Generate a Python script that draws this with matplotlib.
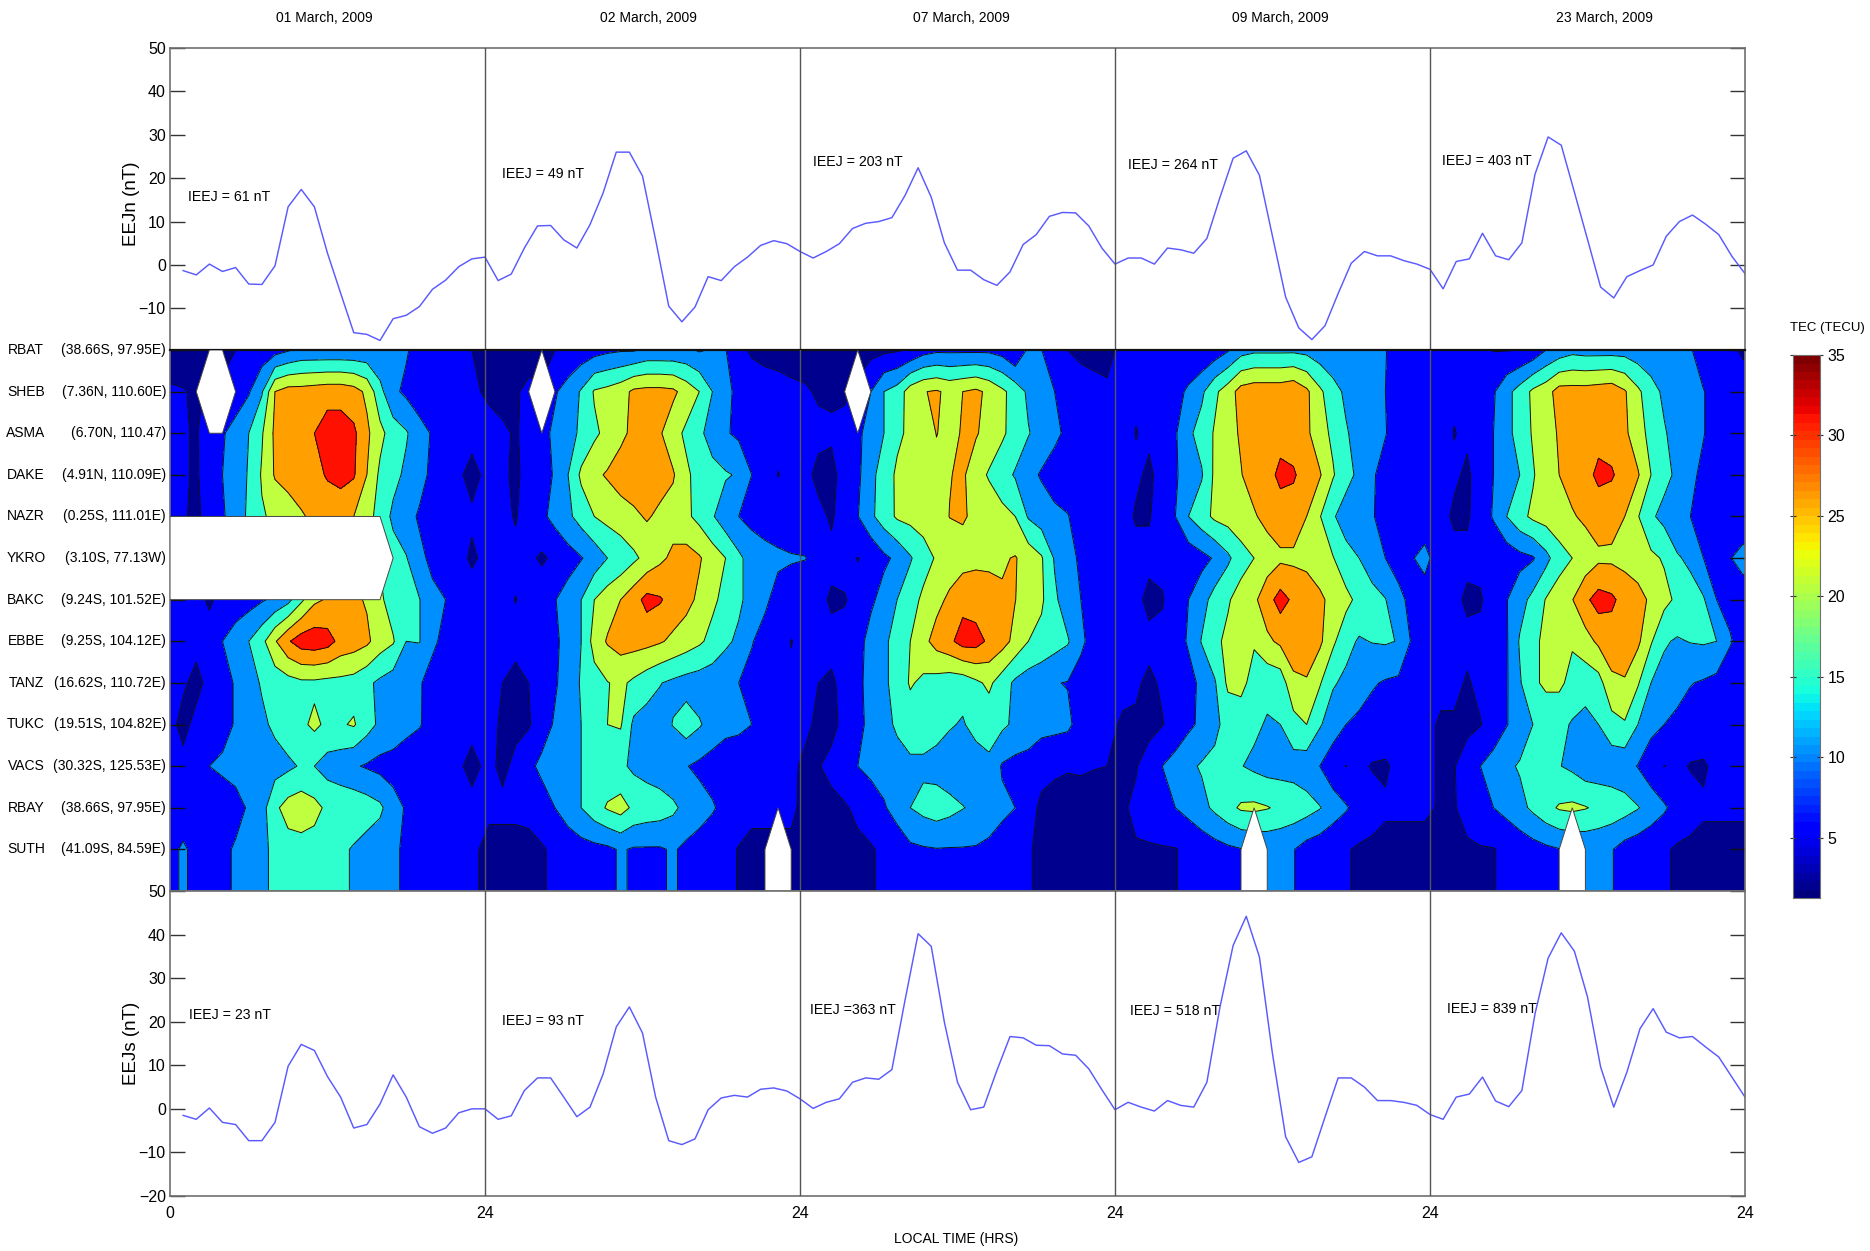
import numpy as np
import matplotlib
matplotlib.use('Agg')
import matplotlib.pyplot as plt
from matplotlib.patches import Polygon

nan = np.nan
FONT = ['Liberation Sans', 'DejaVu Sans']
plt.rcParams['font.family'] = FONT

dates = ['01 March, 2009', '02 March, 2009', '07 March, 2009', '09 March, 2009', '23 March, 2009']
stations = ['RBAT', 'SHEB', 'ASMA', 'DAKE', 'NAZR', 'YKRO', 'BAKC', 'EBBE', 'TANZ', 'TUKC', 'VACS', 'RBAY', 'SUTH']
coords = ['(38.66S, 97.95E)', '(7.36N, 110.60E)', '(6.70N, 110.47)', '(4.91N, 110.09E)', '(0.25S, 111.01E)',
          '(3.10S, 77.13W)', '(9.24S, 101.52E)', '(9.25S, 104.12E)', '(16.62S, 110.72E)', '(19.51S, 104.82E)',
          '(30.32S, 125.53E)', '(38.66S, 97.95E)', '(41.09S, 84.59E)']
ieej_n = ['IEEJ = 61 nT', 'IEEJ = 49 nT', 'IEEJ = 203 nT', 'IEEJ = 264 nT', 'IEEJ = 403 nT']
ieej_s = ['IEEJ = 23 nT', 'IEEJ = 93 nT', 'IEEJ =363 nT', 'IEEJ = 518 nT', 'IEEJ = 839 nT']

eejn = [
 [-1.3,-2.3,0.2,-1.5,-0.6,-4.4,-4.5,-0.2,13.4,17.4,13.4,2.7,-6.5,-15.6,-16,-17.4,-12.4,-11.6,-9.6,-5.6,-3.5,-0.4,1.4,1.8],
 [-3.6,-2.1,3.9,9,9.1,5.8,3.9,9.3,16.6,26,26,20.5,5.8,-9.5,-13.1,-9.7,-2.7,-3.6,-0.4,1.8,4.5,5.6,4.9,3.1],
 [1.6,3.1,4.9,8.4,9.6,10,10.9,16,22.4,15.6,5.1,-1.2,-1.2,-3.4,-4.7,-1.6,4.7,7,11.2,12.1,12,9,3.9,0.2],
 [1.6,1.6,0.2,3.9,3.5,2.7,6.1,15.6,24.6,26.3,20.7,6.6,-7.4,-14.5,-17.2,-14,-6.6,0.4,3.1,2.1,2.1,1,0.2,-1],
 [-5.5,0.8,1.4,7.3,2.1,1.2,5.1,20.9,29.5,27.6,16.8,5.9,-5.1,-7.6,-2.7,-1.3,0,6.6,10,11.5,9.4,7,2,-2],
]
eejs = [
 [-1.5,-2.4,0.2,-3.1,-3.6,-7.3,-7.3,-3.1,9.8,14.8,13.4,7.4,2.7,-4.4,-3.6,1.1,7.8,2.7,-4.1,-5.6,-4.4,-0.9,0,0],
 [-2.4,-1.6,4.2,7.1,7.1,2.7,-1.8,0.4,8,18.8,23.4,17.4,2.7,-7.3,-8.2,-6.9,-0.2,2.5,3.1,2.7,4.5,4.8,4.1,2.3],
 [0.1,1.5,2.3,6.1,7.1,6.8,9,24.9,40.2,37.3,19.9,6.1,-0.2,0.4,8.8,16.6,16.3,14.6,14.5,12.6,12.3,9.2,4.4,-0.2],
 [1.5,0.4,-0.5,1.9,0.8,0.4,6.1,23.4,37.5,44.2,34.9,12.6,-6.4,-12.3,-11,-1.9,7.1,7.1,5,1.9,1.9,1.5,0.8,-1.3],
 [-2.4,2.7,3.4,7.3,1.8,0.5,4.2,21.8,34.6,40.4,36.2,25.7,9.6,0.4,8.4,18.4,23,17.6,16.3,16.6,14.2,11.9,7.3,2.7],
]

tec_day1 = [
 [3,3,3,3,3,5,6,7,8,9.5,11,11,11,11,11,11,11,11,10.5,8,7,5.5,5,5],
 [5.5,5.2,4.5,nan,nan,7,9.5,14.5,25,27,27,27.5,28,28,27,24,16.5,11,9,7,6.5,6,5.5,5.5],
 [6,5.5,4.5,8,9.5,12,15,19.5,26,27,28.5,30,32.5,32.5,31,26,21.5,17.5,15.5,12,9.5,8,7,6],
 [6,5.5,4.5,7,10,12,15.5,20.5,25.5,26.5,27.5,28.5,30.5,31.5,30.5,25,19,16.5,14,11.5,9,7,5.5,4],
 [6,5.5,4,7,9.5,12,16,19.5,21,23,24.5,26,27,27,25,22,18,14,11.5,9.5,8,7,6,5.5],
 [nan,nan,nan,nan,nan,nan,nan,nan,nan,nan,nan,nan,nan,nan,nan,nan,nan,17,15.3,11,9,7,6,4.5],
 [6,6,6,4.5,6,7,8,9.5,11,13.5,19,24,25.5,27,26,24.5,21,17.5,16,15.2,11,10,8,6.5],
 [6,6,6,6.5,10,12.5,15,18.5,24.5,29.5,32.5,33,32,28.5,27.5,26,22.5,20.5,15,15.2,11,8.5,7,6],
 [6,5.5,4,6,8,10.5,13,15.5,17,18,19,19,18.5,18.5,18,16,14,12.5,11,10.5,8,7,6,5.5],
 [6,4,6,7,8,10.5,12,14,16,18,19,21,19,19.5,20.5,17,14,13,11.5,10.3,8.5,7,6,6],
 [6,6,7,10,11,11.5,12,12.5,13,14,15.5,15,13,12,10.5,9.5,8.5,8,7,7,7,6,5.5,4],
 [6,6,6,6,7,8.5,10.5,13,19,22,23,21.5,19,18.5,18.5,17.5,16,12,9.5,8,7,6,6,6],
 [8,11,8,7,9,10.5,12,14,16,18,18,18,17.5,16,14.5,13,12,10.5,9.5,8,7,6.5,6,6],
]
tec_day2 = [
 [3,3,3,3,3,5,6,7,8,9,9.5,9.5,11,11,11,11,9.5,10.5,10.2,6,4.5,4,4,4],
 [4.5,4,4.5,6,nan,9.5,12,15.5,20.5,21.5,23,26,26.5,26.5,26,23,20,15,11,9,7,6.5,6,5.5],
 [6,5.5,4.7,6,8.5,11,13,16,19,21.5,24,26,27,25.5,22,19,16,13,10.5,9,8,7,6,5.5],
 [6,5.5,4.5,6,8,10.5,15,21,24,25.5,27,28,28,27,25.5,21,18,16.5,15.5,14.5,10,8,4.9,6],
 [6,6,4.7,7,9,11.5,14,17,20,21.5,23,24,25.5,24,23,21,18.5,15.5,12,10,8.5,8,7,6],
 [6,6,6,6,4.3,6,8,9.7,12,15,16.5,19,21.5,24,26,27,25.5,22.5,20,16,13,11.5,11,10.5],
 [6,6,4.9,6,8,9.8,12,15,20,22.5,25,28,31.5,30.5,28,26.5,24,21,18.5,16,13,11,8,7],
 [6,6,6,6,7,9,12,15,22,25.5,27,27,26.5,25.5,24,22.5,20.8,18.5,16,14,10.3,8,6.5,4.9],
 [6,5,4,5,7,9.5,12,15.5,18,19.8,21,19,17,15.2,14,13,12.5,12,11,10,8.5,7,6,5.5],
 [6,4.5,4,4.5,8,10.5,12.5,15,18,20,20.5,14,13,13,15.2,17.5,15.5,13,11.5,11,10,8,6.5,6],
 [6,4,6,9,11,12,13.5,15,16.5,17,16,14,13,12,11,10.2,9,8,7,7,6.5,6,6,6],
 [6,6,6,6,8,10,12.5,15,18,20.5,22,19,18,17.5,16,13.5,12,10.5,8.5,7,6,6,6,6],
 [3.5,3.5,3.5,4,4.5,6,7,8,8.5,9,10.5,9.5,9.5,9.5,10.5,9,8,7,6,4.8,4,4,nan,4],
]
tec_day3 = [
 [3,3,3,3,3,3.5,4,4.5,5.5,8,9,9,9,9,9,8,4.8,11,10.1,6.5,5,4,4,4],
 [5.5,4.5,4.5,4.5,nan,10,15,17,22.5,24.8,25.5,24,25,26,24,21,18,14,12,10,8,7,6,5.5],
 [6,6,5.5,6,9,12,15,19,21,23,25.1,24,25.3,25.5,23,20.8,18,15.3,13,11,9,8,7,6],
 [6,4,4,6.5,9,13.5,17.5,20.8,22,23,24,24.8,25.8,22,19.5,17,14.5,11.5,9.5,8,7.5,7,6.5,6],
 [6,6,4.5,7,9.8,14,17.5,20.7,21.5,22,23,25.1,25.5,24,23,21.5,20,14.5,12.5,11,10.2,8,7,6.5],
 [10.2,8,6,6,4.9,6,9,11,14.5,18,20.5,22,23,24,24,24.5,25.3,23,20.5,14.5,11,9.5,8,7],
 [6,6,4.5,4.8,6,9,12,15,18,21,23.5,26,28.5,27.5,27,25.5,25.1,22.5,20.8,16,12,10,8,7],
 [6,6,6,6,8,12,14,17,20,23.5,27,29,32,32,29,27,23.5,20,18.5,17,15.5,11,8,7],
 [6,5,4.5,6,9,11.5,14,17,20.5,19,18,17,17,19,21,17.5,14,12.5,11.5,10.2,9.8,8,7,6],
 [6,4,4,6,9,11,13,16,17.5,17.5,17,15.5,14.5,17,17,16,14,13,12,11.5,11,8,7,6],
 [4,4.8,6,8,10,11,12,12.5,14,14,13,12,12,12,14,9.5,8.5,8,5.8,5.5,5.2,5.3,5.1,5],
 [3.5,3.5,4,4.5,6,8,9.5,12,15,16.5,17.5,16.5,15.2,14,12.5,11,10,6,4.5,4,4,4,4,4],
 [3.5,3.5,3.5,3.5,4,4.5,6,7,9,9.5,9.8,9.7,9.7,9.6,9,8,6.5,5.3,4.3,4,4,4,4,4],
]
tec_day4 = [
 [6,5.5,5.5,5.5,5,5,5.5,7,9.5,13,14,14,14,14,13.5,12,11,11,11,11,10.2,8,7,6],
 [6,5.5,5.5,6,8,11,14,19,22.5,27,28,28,28,29,26,21,17,14,12.5,11,10,8,7,6],
 [6,4.9,5.5,7,9.5,14,17,20.5,23.5,25.5,27,28,28.5,28,26,22,19,15.5,13,11.5,10.2,8,7,6],
 [6,5.5,4.5,6,9.5,12,14.5,21,23.5,24.8,27,28.5,31,30.5,28,25.5,20.5,16.5,14,10.5,8.5,7.5,6.5,5],
 [6,4.7,4.7,7,10,15,18,21,22,23,24.5,26.5,28,28,25,20.3,15.5,13,11.5,10.2,9,8,7,6],
 [6,6,6,6,6,7,8.5,10.5,14,18,20,22.5,24,24,23.5,22,20.3,16.5,15,12,10,8.5,9.5,12],
 [6,6,4,4.7,7,10,13,17,19.5,22,24,28,32,29,28,26,23.5,21.5,18.5,17,15.2,11,9,7],
 [6,6,6,6,8,10.5,15.3,19,21,21,20.5,24,26,27.5,28,26,21,16.5,14.5,15.2,15.5,14.8,9.5,7.5],
 [6,5.5,4.3,5.5,7,8.5,11,14.5,21,21.5,18,16.5,17,24,24.5,20.5,15.5,14,12,10.5,9.5,9,7.5,6],
 [4.5,4.5,4,4.8,6.5,9,11,14,16.5,17,16,14.5,15,18,20,15.5,12.5,10,9,8,7.5,7,6.5,6],
 [4.5,4.8,6.5,10,12,14,15.5,16,16,15.2,14,13,13,13,12,10,7,4.9,6,4.7,4.5,6,6,6],
 [4.7,5.5,6,7,10,11.5,13.5,16,18.5,20.7,21,20.3,19,18,17,15.3,12.5,10.5,8,7,5.5,5.5,5.5,5.5],
 [4.7,4.8,4.8,4.8,4.8,6,7,8,9,9.8,nan,11,11,10.2,8,7,6,5.3,4.5,4,4,4,4,4],
]
tec_day5 = [
 [6,6,6,6,4.8,4.8,5,6.5,10,12,13.5,13,13,13,13,12,11.5,11,11,10.5,7,6,5.5,4.7],
 [6,5.5,5.5,6,9.5,13.5,17,21,23,27,27,27,27.5,28,25.5,21,17,14,12.5,11.5,10.2,8,7,6],
 [6,4.9,5.5,7,10,13.5,17,20.5,23,25.5,27,28,28.5,28,26,22,18.5,15.5,13,11.5,10.2,8,7,6],
 [6,5.5,4.5,6.5,10,12,15,19.5,23,25,27,28.5,31,30.5,28,25.5,20,16.5,14,11,9,7.5,6.5,6],
 [6,4.5,4.5,7,10.5,15,18.5,21,22,23,24.5,26,27.5,27,25,20.3,15.8,13.5,11.5,10,9,8,7,6],
 [6,6,6,6,6,7,8.5,9.5,13.5,18,20,22,24,24,23.5,22,21,19.5,15.5,14,10,8,9.7,12],
 [6,6,4.3,4.6,7,9.8,13,16.5,20.3,22.5,24.8,29,32,31,28,27,24,21.5,19,17,15.5,10,8.5,7],
 [6,6,6,6,8,9.5,15.5,19,21,21,20.5,23,26,27.5,28,26,20.5,15.5,14.5,15.2,15.5,15,10.5,8],
 [6,6,4.6,6,8.5,9.5,14.5,19,21,21,18.5,17,18,24,24.5,20.5,15,13.5,11.5,10.2,9.5,8.5,7,6],
 [4.5,4.5,4,4.8,7,9.8,12,15,16.5,16.5,14.5,13.5,15,18,19.5,15,11.5,10,9,8,7.5,7,6.5,6],
 [4.5,4.8,7,10,12,14,15.5,16,16,15.2,14,12,12,12,11.5,9.8,7,4.9,6,4.7,4.5,6,6,6],
 [4.7,4.9,5.5,7,10,11.5,13.5,16,18.5,20.5,21,20.3,19,18,17,15.3,13,10.7,8,7,5.5,5.5,5.5,5.5],
 [4.7,4.8,4.8,4.8,4.8,6,7,8,9,9.8,nan,11,11,10.3,8,7,6,5.5,4.5,4,4,4,4,4],
]
tec_days = [tec_day1, tec_day2, tec_day3, tec_day4, tec_day5]
day_offset = [0, 0.33, 0.4, 0.6, 0.84]   # hour of the first sample after each day's start

W, H = 1870, 1251
fig = plt.figure(figsize=(W / 100, H / 100), dpi=100, facecolor='white')

def add_axes(x0, y0, x1, y1):
    return fig.add_axes([x0 / W, 1 - y1 / H, (x1 - x0) / W, (y1 - y0) / H])

L, R = 170, 1745
ax_n = add_axes(L, 48, R, 350)
ax_c = add_axes(L, 350, R, 891)
ax_s = add_axes(L, 891, R, 1196)

GREY = '#707070'
LINE = '#5A5AFF'
days = np.arange(5)
hours = np.arange(1, 25)

for ax, series, ylim in ((ax_n, eejn, (-19.6, 50)), (ax_s, eejs, (-20, 50))):
    x = np.concatenate([24 * d + hours for d in days])
    ax.plot(x, np.concatenate(series), color=LINE, lw=1.05, zorder=2)
    ax.set_xlim(0, 120)
    ax.set_ylim(*ylim)

for s in ('bottom', 'left', 'right', 'top'):
    for ax in (ax_n, ax_s):
        ax.spines[s].set_color(GREY)
        ax.spines[s].set_linewidth(1.2)

ax_n.set_yticks(np.arange(-10, 51, 10))
ax_s.set_yticks(np.arange(-20, 51, 10))
ax_n.set_xticks([])
ax_s.set_xticks(np.arange(0, 121, 24))
ax_s.set_xticklabels(['0', '24', '24', '24', '24', '24'], fontsize=11.5)
ax_s.tick_params(axis='x', length=0, pad=7)
for ax in (ax_n, ax_s):
    ax.tick_params(axis='y', direction='in', length=11, width=1, color='#333333', right=True,
                   labelsize=11.5, pad=3)

# contour panel
Z = np.array(sum([list(np.array(t).T) for t in tec_days], []), dtype=float).T   # rows x columns
xs = np.concatenate([24 * d + day_offset[d] + np.arange(24) for d in days])
nrow, ncol = Z.shape
Zf = Z.copy()
for r in range(nrow):
    for c in range(ncol):
        if np.isnan(Z[r, c]):
            if r == nrow - 1:
                vals = [Z[r, k] for k in (c - 1, c + 1)]
            else:
                vals = [Z[k, c] for k in (r - 1, r + 1) if not np.isnan(Z[k, c])]
            Zf[r, c] = np.mean(vals)
Zf = np.vstack([Zf, Zf[-1]])
Zf = np.column_stack([Zf, Zf[:, -1]])
xg = np.append(xs, 120.0)
yg = np.arange(nrow + 1)
levels = [0, 5, 10, 15, 20, 25, 30, 40]
colors = ['#00008F', '#0000FF', '#008FFF', '#2FFFCF', '#BFFF3F', '#FF9F00', '#FF1000']
ax_c.contourf(xg, yg, Zf, levels=levels, colors=colors, zorder=1)
ax_c.contour(xg, yg, Zf, levels=levels[1:-1], colors='#111111', linewidths=0.7, zorder=2)

# missing samples are left white
for r in range(nrow):
    c = 0
    while c < ncol:
        if np.isnan(Z[r, c]):
            c0 = c
            while c + 1 < ncol and np.isnan(Z[r, c + 1]):
                c += 1
            c1 = c
            xl = xs[c0 - 1] if c0 > 0 else xs[0]
            xr = xs[c1 + 1]
            if r == nrow - 1:
                pts = [(xl, r), (xs[c0], r - 1), (xs[c1], r - 1), (xr, r), (xr, r + 1), (xl, r + 1)]
            else:
                pts = [(xl, r), (xs[c0], r - 1), (xs[c1], r - 1), (xr, r), (xs[c1], r + 1), (xs[c0], r + 1)]
            ax_c.add_patch(Polygon(pts, closed=True, fc='white', ec='#444444', lw=0.7, zorder=3))
        c += 1

ax_c.set_xlim(0, 120)
ax_c.set_ylim(nrow, 0)
ax_c.set_xticks([])
ax_c.set_yticks(np.arange(nrow))
ax_c.set_yticklabels([])
ax_c.tick_params(axis='y', direction='in', length=11, width=1, color='#111111', right=True, zorder=5)
for s in ('left', 'right', 'bottom'):
    ax_c.spines[s].set_color(GREY)
    ax_c.spines[s].set_linewidth(1.2)
ax_c.spines['top'].set_color('#111111')
ax_c.spines['top'].set_linewidth(1.6)

# day separators
for ax in (ax_n, ax_c, ax_s):
    for d in days[1:]:
        ax.axvline(24 * d, color='#555555', lw=1.0, zorder=4)

def ftext(x, y, s, **kw):
    kw.setdefault('ha', 'center')
    kw.setdefault('va', 'center')
    kw.setdefault('fontsize', 10)
    return fig.text(x / W, 1 - y / H, s, **kw)

for x, s in zip((324, 648, 961, 1280, 1604), dates):
    ftext(x, 18, s)
for x, y, s in zip((188, 502, 813, 1128, 1442), (197, 174, 162, 165, 161), ieej_n):
    ftext(x, y, s, ha='left', fontsize=10.2)
for x, y, s in zip((189, 502, 810, 1130, 1447), (1015, 1021, 1010, 1011, 1009), ieej_s):
    ftext(x, y, s, ha='left', fontsize=10.2)
for i, (n, c) in enumerate(zip(stations, coords)):
    y = 350 + i * 41.6
    ftext(26, y, n, fontsize=10)
    ftext(166, y, c, ha='right', fontsize=10)
ftext(956, 1239, 'LOCAL TIME (HRS)', fontsize=10)
ftext(1827, 328, 'TEC (TECU)', fontsize=9.5)
lab = dict(rotation=90, fontsize=13.5)
ftext(131, 204, 'EEJn (nT)', **lab)
ftext(131, 1043, 'EEJs (nT)', **lab)

# colour bar
ax_b = add_axes(1793, 355, 1820, 898)
cb_vals = np.linspace(1.27, 35, 64)[:, None]
ax_b.imshow(cb_vals, aspect='auto', origin='lower', cmap='jet', extent=(0, 1, 1.27, 35))
ax_b.set_xticks([])
ax_b.set_yticks([5, 10, 15, 20, 25, 30, 35])
ax_b.yaxis.tick_right()
ax_b.tick_params(axis='y', direction='inout', length=5, width=0.8, color='#333333', labelsize=11.5, pad=3, left=True)
for s in ax_b.spines.values():
    s.set_color(GREY)
    s.set_linewidth(0.8)

fig.savefig('out.png', dpi=100, facecolor='white')
